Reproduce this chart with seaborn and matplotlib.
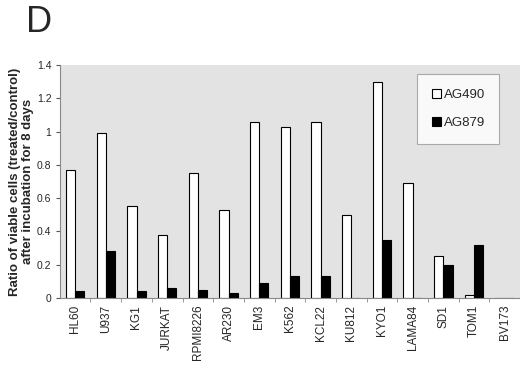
import numpy as np
import pandas as pd
import seaborn as sns
import matplotlib.pyplot as plt
from matplotlib.ticker import FuncFormatter

cell_lines = ["HL60", "U937", "KG1", "JURKAT", "RPMI8226", "AR230", "EM3", "K562",
              "KCL22", "KU812", "KYO1", "LAMA84", "SD1", "TOM1", "BV173"]
ag490 = [0.77, 0.99, 0.55, 0.38, 0.75, 0.53, 1.06, 1.03, 1.06, 0.50, 1.30, 0.69, 0.25, 0.02, 0.0]
ag879 = [0.04, 0.28, 0.04, 0.06, 0.05, 0.03, 0.09, 0.13, 0.13, 0.0, 0.35, 0.0, 0.20, 0.32, 0.0]

df = pd.concat([
    pd.DataFrame({"Cell line": cell_lines, "Ratio": ag490, "Drug": "AG490"}),
    pd.DataFrame({"Cell line": cell_lines, "Ratio": ag879, "Drug": "AG879"}),
])

sns.set_style("white")
plt.rcParams["font.family"] = ["Liberation Sans", "DejaVu Sans"]

fig = plt.figure(figsize=(5.2, 3.66), dpi=100)
ax = fig.add_axes([0.115, 0.186, 0.885, 0.636])
ax.set_facecolor("#e3e3e3")

sns.barplot(data=df, x="Cell line", y="Ratio", hue="Drug",
            palette={"AG490": "white", "AG879": "black"},
            edgecolor="black", linewidth=0.8, width=0.6, ax=ax)

ax.set_ylim(0, 1.4)
ax.set_yticks([0, 0.2, 0.4, 0.6, 0.8, 1.0, 1.2, 1.4])
ax.yaxis.set_major_formatter(FuncFormatter(lambda v, p: f"{v:g}"))
ax.tick_params(axis="y", labelsize=7.5, length=3, pad=3, left=True, color="#555555")
ax.tick_params(axis="x", labelsize=8.5, rotation=90, length=0, pad=5)
ax.set_xticks(np.arange(len(cell_lines)) + 0.5, minor=True)
ax.tick_params(axis="x", which="minor", bottom=True, length=3, color="#888888")
ax.set_xlim(-0.5, len(cell_lines) - 0.5)

for s in ["top", "right"]:
    ax.spines[s].set_visible(False)
ax.spines["left"].set_color("#888888")
ax.spines["bottom"].set_color("#888888")
ax.spines["left"].set_linewidth(0.8)
ax.spines["bottom"].set_linewidth(0.8)

ax.set_xlabel("")
ax.set_ylabel("Ratio of viable cells (treated/control)\nafter incubation for 8 days",
              fontsize=9.5, fontweight="bold", labelpad=2, linespacing=1.1)

leg = ax.legend(loc="upper right", bbox_to_anchor=(0.955, 0.96), frameon=True,
                fontsize=9.5, handlelength=0.7, handleheight=0.7, labelspacing=1.2,
                handletextpad=0.2, borderpad=1.1, borderaxespad=0, fancybox=False)
leg.get_frame().set_edgecolor("#999999")
leg.get_frame().set_linewidth(0.8)

fig.text(0.05, 0.985, "D", fontsize=26, va="top", ha="left")

fig.savefig("out.png", dpi=100)
